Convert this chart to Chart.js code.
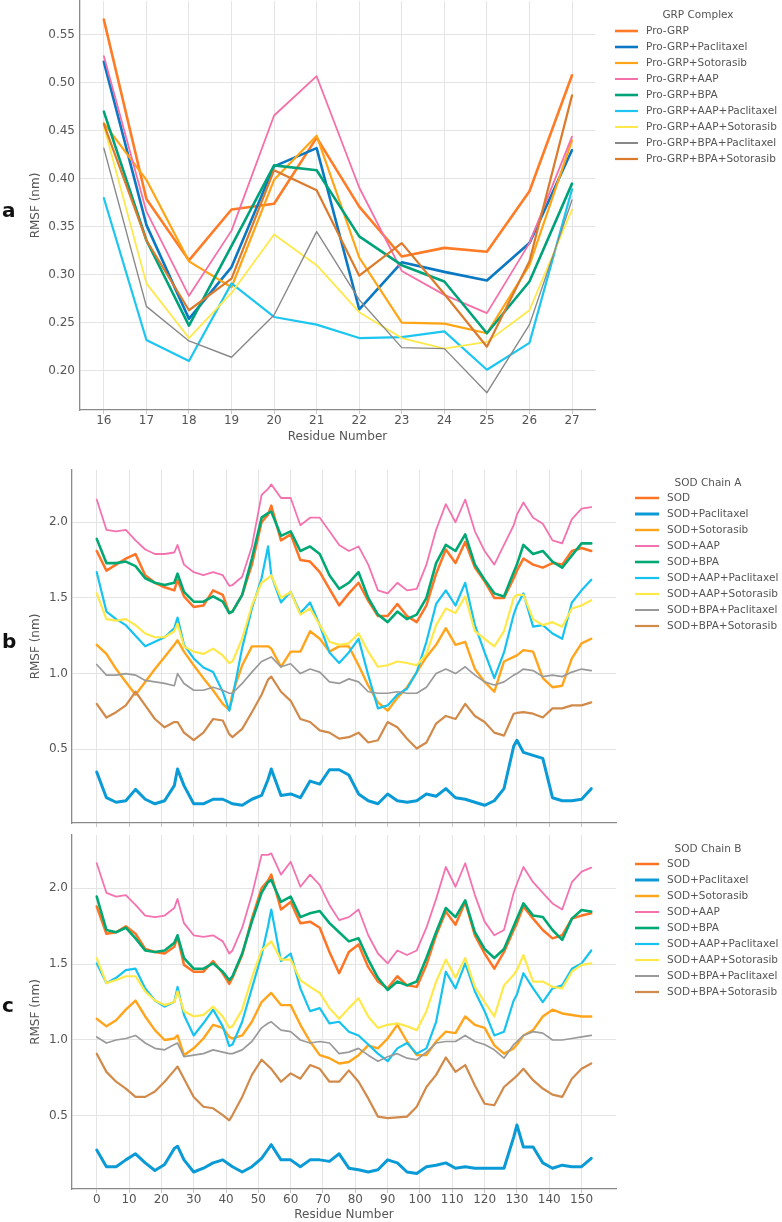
<!DOCTYPE html>
<html><head><meta charset="utf-8">
<script src="https://cdn.jsdelivr.net/npm/chart.js@4.4.0/dist/chart.umd.min.js"></script>
<style>
html,body{margin:0;padding:0;background:#fff;}
body{width:782px;height:1222px;position:relative;overflow:hidden;font-family:"DejaVu Sans",sans-serif;}
canvas{position:absolute;left:0;}
.lbl{position:absolute;font:bold 20px "DejaVu Sans",sans-serif;color:#111;line-height:24px;}
</style></head><body>
<canvas id="ca" width="782" height="450" style="top:0;width:782px;height:450px"></canvas>
<canvas id="cb" width="782" height="368" style="top:462px;width:782px;height:368px"></canvas>
<canvas id="cc" width="782" height="392" style="top:830px;width:782px;height:392px"></canvas>
<div class="lbl" style="left:2px;top:198px">a</div>
<div class="lbl" style="left:2px;top:629px">b</div>
<div class="lbl" style="left:2px;top:993px">c</div>
<script>
// ---------- Panel a : GRP complex ----------
const grpResidues = [16,17,18,19,20,21,22,23,24,25,26,27];
const grpLabels = ['Pro-GRP','Pro-GRP+Paclitaxel','Pro-GRP+Sotorasib','Pro-GRP+AAP','Pro-GRP+BPA','Pro-GRP+AAP+Paclitaxel','Pro-GRP+AAP+Sotorasib','Pro-GRP+BPA+Paclitaxel','Pro-GRP+BPA+Sotorasib'];
const grpProGRP   = [0.566,0.379,0.315,0.368,0.374,0.443,0.371,0.319,0.328,0.324,0.387,0.508];
const grpPac      = [0.522,0.352,0.254,0.308,0.413,0.432,0.264,0.313,0.303,0.294,0.333,0.430];
const grpSoto     = [0.458,0.399,0.314,0.287,0.399,0.445,0.318,0.250,0.249,0.239,0.310,0.440];
const grpAAP      = [0.528,0.366,0.278,0.346,0.466,0.507,0.391,0.304,0.279,0.260,0.333,0.444];
const grpBPA      = [0.470,0.336,0.247,0.330,0.414,0.409,0.340,0.310,0.293,0.239,0.293,0.395];
const grpAAPPac   = [0.380,0.232,0.210,0.291,0.256,0.248,0.234,0.235,0.241,0.201,0.229,0.389];
const grpAAPSoto  = [0.455,0.291,0.234,0.281,0.342,0.310,0.261,0.234,0.223,0.230,0.263,0.368];
const grpBPAPac   = [0.432,0.267,0.231,0.214,0.258,0.345,0.274,0.224,0.223,0.177,0.248,0.378];
const grpBPASoto  = [0.457,0.336,0.263,0.296,0.409,0.388,0.299,0.333,0.280,0.225,0.314,0.487];
const grpXTicks = [16,17,18,19,20,21,22,23,24,25,26,27];
const grpYTicks = [0.20,0.25,0.30,0.35,0.40,0.45,0.50,0.55];

// ---------- Panels b, c : SOD chains ----------
const sodResidues = [0,3,6,9,12,15,18,21,24,25,27,30,33,36,39,41,42,45,48,51,53,54,57,60,63,66,69,72,75,78,81,84,87,90,93,96,99,102,105,108,111,114,117,120,123,126,129,130,132,135,138,141,144,147,150,153];
const sodLabels = ['SOD','SOD+Paclitaxel','SOD+Sotorasib','SOD+AAP','SOD+BPA','SOD+AAP+Paclitaxel','SOD+AAP+Sotorasib','SOD+BPA+Paclitaxel','SOD+BPA+Sotorasib'];
const sodXTicks = [0,10,20,30,40,50,60,70,80,90,100,110,120,130,140,150];
const sodYTicks = [0.5,1.0,1.5,2.0];

// Chain A
const aSOD     = [1.81,1.68,1.72,1.76,1.79,1.65,1.60,1.57,1.55,1.62,1.51,1.44,1.45,1.55,1.52,1.40,1.41,1.52,1.72,2.00,2.05,2.11,1.88,1.92,1.75,1.74,1.67,1.56,1.45,1.53,1.60,1.48,1.38,1.38,1.46,1.38,1.34,1.45,1.66,1.82,1.73,1.87,1.70,1.61,1.50,1.50,1.63,1.68,1.76,1.72,1.70,1.73,1.72,1.81,1.83,1.81];
const aPac     = [0.35,0.18,0.15,0.16,0.235,0.17,0.14,0.16,0.26,0.37,0.26,0.14,0.14,0.17,0.17,0.15,0.14,0.13,0.17,0.195,0.30,0.37,0.195,0.205,0.18,0.29,0.27,0.365,0.365,0.33,0.205,0.16,0.14,0.205,0.16,0.15,0.16,0.205,0.19,0.24,0.18,0.17,0.15,0.13,0.16,0.24,0.52,0.56,0.48,0.46,0.44,0.18,0.16,0.16,0.17,0.24];
const aSoto    = [1.19,1.13,1.03,0.945,0.86,0.945,1.03,1.11,1.19,1.22,1.145,1.055,0.97,0.89,0.80,0.76,0.87,1.055,1.18,1.18,1.18,1.165,1.045,1.145,1.145,1.28,1.23,1.145,1.18,1.18,1.055,0.92,0.81,0.755,0.84,0.91,1.01,1.11,1.19,1.30,1.19,1.21,1.03,0.945,0.88,1.08,1.11,1.12,1.155,1.145,0.97,0.91,0.92,1.10,1.20,1.23];
const aAAP     = [2.15,1.95,1.94,1.95,1.88,1.82,1.79,1.79,1.80,1.85,1.72,1.67,1.65,1.67,1.65,1.58,1.585,1.64,1.84,2.18,2.22,2.25,2.16,2.16,1.98,2.03,2.03,1.94,1.85,1.81,1.84,1.72,1.55,1.53,1.60,1.55,1.56,1.72,1.95,2.12,2.00,2.15,1.94,1.81,1.72,1.85,1.98,2.05,2.13,2.03,1.99,1.88,1.86,2.02,2.09,2.10];
const aBPA     = [1.89,1.73,1.73,1.74,1.71,1.63,1.60,1.585,1.60,1.66,1.54,1.475,1.475,1.51,1.475,1.40,1.41,1.52,1.76,2.03,2.06,2.07,1.91,1.94,1.81,1.84,1.79,1.65,1.56,1.60,1.67,1.50,1.39,1.34,1.41,1.36,1.39,1.50,1.73,1.85,1.81,1.92,1.72,1.62,1.53,1.51,1.67,1.72,1.85,1.79,1.81,1.74,1.70,1.78,1.86,1.86];
const aAAPPac  = [1.67,1.41,1.36,1.32,1.25,1.18,1.21,1.24,1.30,1.37,1.19,1.10,1.04,1.01,0.88,0.755,0.84,1.17,1.43,1.63,1.84,1.65,1.47,1.54,1.40,1.47,1.32,1.14,1.07,1.14,1.23,0.99,0.77,0.79,0.86,0.90,1.01,1.21,1.46,1.55,1.45,1.60,1.32,1.14,0.97,1.14,1.39,1.45,1.53,1.31,1.32,1.265,1.23,1.47,1.55,1.62];
const aAAPSoto = [1.53,1.36,1.35,1.36,1.32,1.265,1.24,1.24,1.28,1.33,1.18,1.145,1.13,1.165,1.12,1.07,1.08,1.23,1.45,1.60,1.63,1.65,1.50,1.54,1.39,1.43,1.32,1.21,1.19,1.20,1.265,1.145,1.045,1.055,1.08,1.07,1.055,1.13,1.32,1.43,1.40,1.51,1.28,1.23,1.18,1.28,1.50,1.52,1.52,1.36,1.32,1.34,1.31,1.43,1.45,1.485];
const aBPAPac  = [1.06,0.99,0.99,1.00,0.99,0.955,0.945,0.935,0.92,1.00,0.935,0.89,0.89,0.91,0.89,0.87,0.87,0.935,1.01,1.08,1.10,1.11,1.045,1.065,1.00,1.03,1.01,0.945,0.935,0.965,0.945,0.88,0.87,0.87,0.88,0.87,0.87,0.91,1.00,1.03,1.00,1.045,0.99,0.945,0.925,0.945,0.99,1.00,1.03,1.02,0.98,0.99,0.98,1.01,1.03,1.02];
const aBPASoto = [0.80,0.71,0.745,0.79,0.88,0.79,0.70,0.645,0.68,0.68,0.61,0.56,0.61,0.70,0.69,0.60,0.58,0.635,0.745,0.86,0.96,0.98,0.88,0.82,0.70,0.68,0.625,0.61,0.57,0.58,0.61,0.545,0.56,0.68,0.645,0.57,0.505,0.545,0.67,0.72,0.70,0.80,0.72,0.68,0.61,0.59,0.735,0.74,0.745,0.735,0.71,0.77,0.77,0.79,0.79,0.81];

// Chain B
const bSOD     = [1.88,1.70,1.71,1.75,1.70,1.60,1.58,1.57,1.615,1.68,1.495,1.45,1.45,1.52,1.44,1.37,1.41,1.56,1.80,2.00,2.05,2.09,1.86,1.91,1.77,1.78,1.74,1.58,1.44,1.58,1.63,1.48,1.385,1.34,1.42,1.36,1.35,1.495,1.69,1.846,1.76,1.91,1.69,1.57,1.47,1.58,1.725,1.77,1.88,1.80,1.725,1.67,1.69,1.80,1.82,1.835];
const bPac     = [0.275,0.165,0.165,0.21,0.25,0.19,0.14,0.18,0.285,0.30,0.21,0.13,0.155,0.19,0.21,0.18,0.165,0.13,0.165,0.22,0.28,0.31,0.21,0.21,0.165,0.21,0.21,0.20,0.25,0.155,0.145,0.13,0.145,0.21,0.19,0.13,0.12,0.165,0.175,0.19,0.155,0.165,0.155,0.155,0.155,0.155,0.36,0.44,0.295,0.295,0.19,0.155,0.175,0.165,0.165,0.22];
const bSoto    = [1.14,1.09,1.13,1.20,1.26,1.155,1.065,1.00,1.01,1.03,0.90,0.945,1.01,1.10,1.08,1.02,1.01,1.03,1.12,1.25,1.29,1.31,1.23,1.23,1.10,0.99,0.90,0.88,0.845,0.855,0.90,0.965,0.945,1.01,1.10,0.99,0.90,0.90,0.99,1.055,1.045,1.155,1.10,1.08,0.965,0.91,0.945,0.97,1.03,1.065,1.155,1.20,1.175,1.165,1.155,1.155];
const bAAP     = [2.165,1.97,1.945,1.955,1.89,1.82,1.81,1.82,1.87,1.93,1.77,1.69,1.68,1.69,1.65,1.57,1.59,1.74,1.955,2.22,2.22,2.23,2.09,2.175,2.01,2.09,2.02,1.89,1.79,1.81,1.86,1.69,1.57,1.505,1.59,1.56,1.59,1.74,1.93,2.14,2.01,2.165,1.955,1.78,1.69,1.725,1.97,2.03,2.14,2.04,1.97,1.90,1.86,2.04,2.11,2.136];
const bBPA     = [1.945,1.725,1.71,1.74,1.67,1.59,1.58,1.59,1.64,1.69,1.54,1.47,1.47,1.505,1.45,1.395,1.42,1.57,1.78,1.97,2.04,2.055,1.91,1.945,1.81,1.835,1.85,1.77,1.71,1.65,1.67,1.53,1.41,1.33,1.385,1.36,1.385,1.54,1.71,1.87,1.81,1.92,1.71,1.60,1.54,1.60,1.75,1.80,1.90,1.82,1.81,1.725,1.66,1.80,1.857,1.846];
const bAAPPac  = [1.505,1.375,1.41,1.46,1.47,1.34,1.26,1.22,1.25,1.35,1.165,1.03,1.11,1.20,1.09,0.96,0.97,1.12,1.34,1.56,1.75,1.86,1.52,1.57,1.34,1.19,1.21,1.11,1.12,1.055,1.03,0.97,0.91,0.86,0.945,0.98,0.91,0.945,1.12,1.45,1.34,1.505,1.32,1.19,1.03,1.055,1.26,1.30,1.44,1.34,1.25,1.34,1.36,1.47,1.505,1.59];
const bAAPSoto = [1.54,1.375,1.395,1.42,1.42,1.32,1.26,1.23,1.25,1.32,1.19,1.155,1.165,1.22,1.155,1.08,1.09,1.20,1.41,1.59,1.63,1.65,1.53,1.53,1.395,1.35,1.31,1.21,1.14,1.21,1.275,1.155,1.08,1.10,1.11,1.09,1.065,1.19,1.385,1.53,1.41,1.54,1.35,1.25,1.155,1.36,1.43,1.46,1.56,1.385,1.385,1.35,1.34,1.45,1.495,1.505];
const bBPAPac  = [1.02,0.98,1.00,1.01,1.03,0.98,0.945,0.935,0.97,0.98,0.89,0.90,0.91,0.935,0.92,0.91,0.91,0.935,0.99,1.08,1.11,1.12,1.065,1.055,1.00,0.98,0.99,0.98,0.91,0.92,0.945,0.90,0.86,0.89,0.91,0.88,0.87,0.92,0.98,0.99,0.99,1.03,0.99,0.97,0.935,0.88,0.97,0.99,1.03,1.055,1.045,1.00,1.00,1.01,1.02,1.03];
const bBPASoto = [0.91,0.79,0.725,0.68,0.625,0.625,0.66,0.725,0.80,0.825,0.745,0.625,0.56,0.55,0.505,0.47,0.505,0.625,0.77,0.87,0.83,0.81,0.725,0.78,0.745,0.835,0.81,0.725,0.725,0.80,0.725,0.615,0.495,0.485,0.49,0.495,0.56,0.69,0.77,0.885,0.79,0.835,0.70,0.58,0.57,0.69,0.745,0.765,0.81,0.735,0.68,0.64,0.625,0.745,0.81,0.845];

// ---------- styling ----------
const FONT = '"DejaVu Sans", sans-serif';
const TXT = '#555';
const grpColors = ['#FF7B25','#0A78C2','#FFA414','#F56FA8','#00A27A','#1CC6F0','#FFE84A','#888888','#DC7A2C'];
const grpWidths = [2.6,2.6,2.2,1.8,2.6,2.2,1.8,1.4,2.2];
const sodColors = ['#FF7424','#0A9AD6','#FFA41B','#F472B0','#00A874','#16C3F0','#FFE84A','#9A9A9A','#D18A4A'];
const sodWidths = [2.5,3.0,2.4,1.8,2.6,2.2,2.2,1.7,2.2];

const sideLegend = {
  id: 'sideLegend',
  afterDraw(chart, args, o) {
    const ctx = chart.ctx;
    ctx.save();
    ctx.font = o.size + 'px ' + FONT;
    ctx.textBaseline = 'middle';
    ctx.fillStyle = TXT;
    ctx.textAlign = 'center';
    ctx.fillText(o.title, o.titleX, o.titleY);
    ctx.textAlign = 'left';
    chart.data.datasets.forEach((d, i) => {
      const y = o.y0 + i * o.step;
      ctx.strokeStyle = d.borderColor;
      ctx.lineWidth = Math.max(d.borderWidth, 2);
      ctx.beginPath(); ctx.moveTo(o.x0, y); ctx.lineTo(o.x0 + o.len, y); ctx.stroke();
      ctx.fillStyle = TXT;
      ctx.fillText(d.label, o.x0 + o.len + o.gap, y);
    });
    ctx.restore();
  }
};

function panel(id, o) {
  const n = o.series.length;
  const datasets = o.series.map((vals, i) => ({
    label: o.labels[i],
    data: o.x.map((r, j) => ({x: r, y: vals[j]})),
    borderColor: o.colors[i], borderWidth: o.widths[i],
    pointRadius: 0, tension: 0, fill: false, order: n - i,
    borderJoinStyle: 'round', borderCapStyle: 'round'
  }));
  new Chart(document.getElementById(id), {
    type: 'line',
    data: {datasets},
    options: {
      responsive: false, animation: false, events: [],
      layout: {padding: o.pad},
      plugins: {legend: {display: false}, tooltip: {enabled: false}, title: {display: false}, sideLegend: o.legend},
      scales: {
        x: {
          type: 'linear', bounds: 'data', min: o.xmin, max: o.xmax,
          afterBuildTicks: s => { s.ticks = o.xticks.map(v => ({value: v})); },
          afterFit: s => { s.height = o.xh; s.paddingLeft = 0; s.paddingRight = 0; },
          grid: {color: '#e4e4e4', lineWidth: 1, drawTicks: true, tickLength: 4, tickColor: '#c8c8c8'},
          border: {display: true, color: '#8a8a8a', width: 1.3},
          ticks: {display: o.xlabels, color: TXT, font: {family: FONT, size: 12}, padding: 0, maxRotation: 0, autoSkip: false, callback: v => String(v)},
          title: {display: !!o.xtitle, text: o.xtitle || '', color: TXT, font: {family: FONT, size: 12}, padding: {top: 0, bottom: o.xtpad}}
        },
        y: {
          type: 'linear', bounds: 'data', min: o.ymin, max: o.ymax,
          afterBuildTicks: s => { s.ticks = o.yticks.map(v => ({value: v})); },
          afterFit: s => { s.width = o.yw; s.paddingTop = 0; s.paddingBottom = 0; },
          grid: {color: '#e4e4e4', lineWidth: 1, drawTicks: false},
          border: {display: true, color: '#8a8a8a', width: 1.3},
          ticks: {color: TXT, font: {family: FONT, size: 12}, padding: o.ypad, autoSkip: false, callback: v => Number(v).toFixed(o.ydec)},
          title: {display: true, text: 'RMSF (nm)', color: TXT, font: {family: FONT, size: 12}, padding: {top: 29, bottom: 0}}
        }
      }
    },
    plugins: [sideLegend]
  });
}

panel('ca', {
  x: grpResidues, labels: grpLabels, colors: grpColors, widths: grpWidths,
  series: [grpProGRP, grpPac, grpSoto, grpAAP, grpBPA, grpAAPPac, grpAAPSoto, grpBPAPac, grpBPASoto],
  xmin: 15.44, xmax: 27.54, ymin: 0.159, ymax: 0.5854,
  xticks: grpXTicks, yticks: grpYTicks, ydec: 2, yw: 80, ypad: 5, xh: 40, xlabels: true,
  xtitle: 'Residue Number', xtpad: 6,
  pad: {left: 0, right: 187, top: 1, bottom: 0},
  legend: {title: 'GRP Complex', titleX: 698, titleY: 15, x0: 615, y0: 31, step: 16, len: 23, gap: 8, size: 10.5}
});

panel('cb', {
  x: sodResidues, labels: sodLabels, colors: sodColors, widths: sodWidths,
  series: [aSOD, aPac, aSoto, aAAP, aBPA, aAAPPac, aAAPSoto, aBPAPac, aBPASoto],
  xmin: -7.65, xmax: 160.65, ymin: 0.013, ymax: 2.345,
  xticks: sodXTicks, yticks: sodYTicks, ydec: 1, yw: 72, ypad: 4, xh: 7, xlabels: false,
  xtitle: '', xtpad: 0,
  pad: {left: 0, right: 166, top: 8, bottom: 0},
  legend: {title: 'SOD Chain A', titleX: 708, titleY: 21, x0: 635, y0: 36, step: 16, len: 24, gap: 8, size: 10.5}
});

panel('cc', {
  x: sodResidues, labels: sodLabels, colors: sodColors, widths: sodWidths,
  series: [bSOD, bPac, bSoto, bAAP, bBPA, bAAPPac, bAAPSoto, bBPAPac, bBPASoto],
  xmin: -7.65, xmax: 160.65, ymin: 0.018, ymax: 2.351,
  xticks: sodXTicks, yticks: sodYTicks, ydec: 1, yw: 72, ypad: 4, xh: 33, xlabels: true,
  xtitle: 'Residue Number', xtpad: 0,
  pad: {left: 0, right: 166, top: 5, bottom: 0},
  legend: {title: 'SOD Chain B', titleX: 708, titleY: 19, x0: 635, y0: 34, step: 16, len: 24, gap: 8, size: 10.5}
});
</script>
</body></html>
